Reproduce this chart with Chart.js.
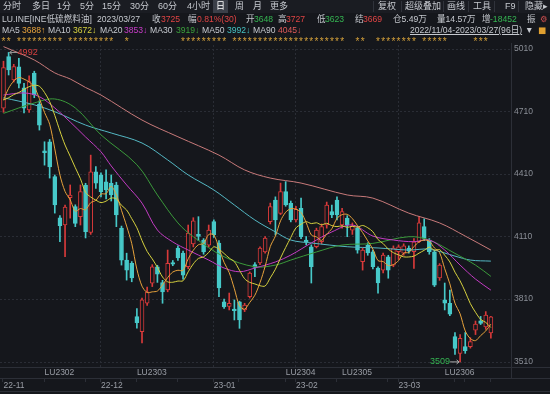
<!DOCTYPE html>
<html>
<head>
<meta charset="utf-8">
<script src="https://cdn.jsdelivr.net/npm/chart.js@4.4.1/dist/chart.umd.min.js"></script>
<style>
  html, body { margin: 0; padding: 0; background: #15171c; }
  #wrap { position: relative; width: 550px; height: 394px; overflow: hidden;
    font-family: "Liberation Sans", "Noto Sans CJK SC", sans-serif; font-size: 8.6px; color: #c6c9cf; }
  #bar { position: absolute; left: 0; top: 0; width: 550px; height: 13px; background: #1a1c22; }
  #sel { position: absolute; left: 213px; top: 0; width: 15px; height: 13px; background: #3b3f48; }
  .sep { position: absolute; top: 1px; width: 1px; height: 11px; background: #30333b; }
  .t { position: absolute; white-space: nowrap; line-height: 12px; }
  .r1 { top: 0; font-size: 9px; } .r2 { top: 13px; } .r3 { top: 24px; }
  .red { color: #e04444; } .grn { color: #35b552; }
  canvas { position: absolute; left: 0; top: 0; }
</style>
</head>
<body>
<div id="wrap">
  <canvas id="kline" width="550" height="394"></canvas>

  <div id="bar"></div>
  <div id="sel"></div>
  <span class="t r1" style="left:3px">分时</span>
  <span class="t r1" style="left:32px">多日</span>
  <span class="t r1" style="left:57px">1分</span>
  <span class="t r1" style="left:80px">5分</span>
  <span class="t r1" style="left:102px">15分</span>
  <span class="t r1" style="left:130px">30分</span>
  <span class="t r1" style="left:158px">60分</span>
  <span class="t r1" style="left:187px">4小时</span>
  <span class="t r1" style="left:216px;color:#fff">日</span>
  <span class="t r1" style="left:235px">周</span>
  <span class="t r1" style="left:253px">月</span>
  <span class="t r1" style="left:270px">更多</span>
  <div class="sep" style="left:373px"></div>
  <div class="sep" style="left:401px"></div>
  <div class="sep" style="left:443px"></div>
  <div class="sep" style="left:468px"></div>
  <div class="sep" style="left:494px"></div>
  <div class="sep" style="left:518px"></div>
  <span class="t r1" style="left:378px">复权</span>
  <span class="t r1" style="left:405px">超级叠加</span>
  <span class="t r1" style="left:447px">画线</span>
  <span class="t r1" style="left:473px">工具</span>
  <span class="t r1" style="left:505px">F9</span>
  <span class="t r1" style="left:525px">隐藏▸</span>

  <span class="t r2" style="left:2px">LU.INE[INE低硫燃料油]</span>
  <span class="t r2" style="left:97px">2023/03/27</span>
  <span class="t r2" style="left:152px">收</span><span class="t r2 red" style="left:161px">3725</span>
  <span class="t r2" style="left:188px">幅</span><span class="t r2 red" style="left:197px">0.81%(30)</span>
  <span class="t r2" style="left:246px">开</span><span class="t r2 grn" style="left:254px">3648</span>
  <span class="t r2" style="left:278px">高</span><span class="t r2 red" style="left:286px">3727</span>
  <span class="t r2" style="left:317px">低</span><span class="t r2 grn" style="left:325px">3623</span>
  <span class="t r2" style="left:355px">结</span><span class="t r2 red" style="left:363px">3669</span>
  <span class="t r2" style="left:393px">仓5.49万</span>
  <span class="t r2" style="left:437px">量14.57万</span>
  <span class="t r2" style="left:482px">增</span><span class="t r2 grn" style="left:490px">-18452</span>
  <span class="t r2" style="left:527px">振</span>
  <span class="t r2" style="left:540px;color:#d05050;font-family:'DejaVu Sans'">⚙</span>

  <span class="t r3" style="left:2px">MA5</span><span class="t r3" style="left:22px;color:#e8a33c">3688↑</span>
  <span class="t r3" style="left:48px">MA10</span><span class="t r3" style="left:73px;color:#d7d23f">3672↓</span>
  <span class="t r3" style="left:100px">MA20</span><span class="t r3" style="left:124px;color:#c83cc8">3853↓</span>
  <span class="t r3" style="left:150px">MA30</span><span class="t r3" style="left:176px;color:#3ba13b">3919↓</span>
  <span class="t r3" style="left:202px">MA50</span><span class="t r3" style="left:227px;color:#46c3c3">3992↓</span>
  <span class="t r3" style="left:253px">MA90</span><span class="t r3" style="left:278px;color:#e05a5a">4045↓</span>
  <span class="t r3" style="left:410px;text-decoration:underline">2022/11/04-2023/03/27(96日)</span>
  <span class="t r3" style="left:525px">▼</span>
  <span class="t r3" style="left:538px;color:#e0a030;font-family:'DejaVu Sans'">■</span>
</div>

<script>
// trading days shown, 2022-11-04 .. 2023-03-27
const days = [
  '11-04','11-07','11-08','11-09','11-10','11-11','11-14','11-15','11-16','11-17','11-18',
  '11-21','11-22','11-23','11-24','11-25','11-28','11-29','11-30',
  '12-01','12-02','12-05','12-06','12-07','12-08','12-09','12-12','12-13','12-14','12-15','12-16',
  '12-19','12-20','12-21','12-22','12-23','12-26','12-27','12-28','12-29','12-30',
  '01-03','01-04','01-05','01-06','01-09','01-10','01-11','01-12','01-13',
  '01-16','01-17','01-18','01-19','01-20','01-30','01-31',
  '02-01','02-02','02-03','02-06','02-07','02-08','02-09','02-10','02-13','02-14','02-15','02-16','02-17',
  '02-20','02-21','02-22','02-23','02-24','02-27','02-28',
  '03-01','03-02','03-03','03-06','03-07','03-08','03-09','03-10','03-13','03-14','03-15','03-16','03-17',
  '03-20','03-21','03-22','03-23','03-24','03-27'
];

const opens = [
  4725, 4972, 4860, 4923, 4822, 4716, 4893, 4744, 4520, 4564,
  4397, 4200, 4165, 4296, 4253, 4205, 4357, 4130, 4420, 4405,
  4372, 4365, 4357, 4150, 3997, 3982, 3726, 3654, 3790, 3886,
  3965, 3889, 3854, 3985, 4055, 4031, 3965, 4075, 4120, 4093,
  4069, 4181, 4079, 3797, 3775, 3762, 3797, 3758, 3822, 3975,
  3983, 4036, 4181, 4285, 4221, 4325, 4269, 4190, 4245, 4093,
  4061, 4061, 4085, 4165, 4229, 4285, 4165, 4198, 4140, 4150,
  3989, 4069, 4037, 3959, 3949, 4013, 3973, 4037, 4030, 4055,
  4037, 4085, 4157, 4093, 4037, 3911, 3806, 3790, 3630, 3550,
  3582, 3582, 3661, 3706, 3677, 3648
];
const highs = [
  4950, 4992, 4935, 4964, 4844, 4880, 4902, 4760, 4564, 4575,
  4405, 4210, 4260, 4357, 4262, 4357, 4365, 4500, 4445, 4415,
  4430, 4405, 4370, 4160, 4030, 3990, 3765, 3815, 3868, 3975,
  3972, 3900, 4045, 3995, 4065, 4040, 4165, 4200, 4205, 4100,
  4165, 4190, 4090, 3810, 3839, 3806, 3800, 3790, 3940, 3985,
  4060, 4110, 4270, 4300, 4366, 4373, 4280, 4255, 4294, 4110,
  4070, 4150, 4170, 4275, 4260, 4300, 4245, 4210, 4175, 4160,
  4055, 4080, 4045, 3965, 4030, 4020, 4065, 4070, 4075, 4065,
  4100, 4205, 4195, 4100, 4045, 3980, 3887, 3853, 3650, 3640,
  3650, 3625, 3705, 3727, 3750, 3727
];
const lows = [
  4705, 4884, 4850, 4822, 4702, 4705, 4775, 4620, 4452, 4390,
  4222, 4085, 4013, 4198, 4157, 4165, 4103, 4120, 4340, 4300,
  4290, 4280, 4157, 3973, 3901, 3893, 3671, 3600, 3780, 3870,
  3890, 3790, 3845, 3970, 3995, 3905, 3955, 4060, 4090, 4025,
  4060, 4105, 3822, 3765, 3758, 3710, 3670, 3750, 3815, 3917,
  3975, 4030, 4170, 4117, 4215, 4255, 4180, 4180, 4100, 4070,
  3887, 4055, 4075, 4150, 4200, 4190, 4150, 4109, 4120, 4030,
  3949, 4020, 3955, 3839, 3935, 3910, 3965, 4000, 4020, 4030,
  3957, 4080, 4090, 4025, 3870, 3900, 3758, 3730, 3545, 3509,
  3550, 3575, 3640, 3688, 3665, 3623
];
const closes = [
  4920, 4908, 4924, 4844, 4725, 4852, 4788, 4644, 4512, 4444,
  4261, 4162, 4251, 4309, 4173, 4325, 4133, 4420, 4365, 4325,
  4333, 4309, 4213, 3997, 3949, 3911, 3697, 3806, 3845, 3965,
  3930, 3845, 3982, 3977, 4007, 3925, 4126, 4185, 4110, 4036,
  4141, 4117, 3863, 3773, 3790, 3755, 3710, 3781, 3935, 3962,
  4055, 4103, 4253, 4189, 4325, 4261, 4189, 4240, 4109, 4085,
  3965, 4141, 4157, 4261, 4213, 4213, 4229, 4165, 4160, 4045,
  4045, 4031, 3965, 3887, 4021, 3949, 4055, 4061, 4065, 4040,
  4085, 4175, 4101, 4037, 3877, 3973, 3790, 3738, 3574, 3622,
  3563, 3606, 3690, 3694, 3734, 3725
];

// first values of MA5 / MA10 (window starts before the visible range)
const ma5Head = [4764, 4820, 4855, 4872];
const ma10Head = [4764, 4775, 4790, 4800, 4815, 4828, 4835, 4830, 4800];

// longer averages: [day index, value]
const ma20 = [[0,4788],[4,4798],[7,4780],[10,4726],[13,4659],[16,4587],[19,4516],[21,4448],[24,4357],
  [27,4270],[30,4141],[33,4084],[36,4045],[40,3997],[43,3959],[46,3941],[49,3959],[53,3988],[56,4021],
  [60,4079],[64,4132],[68,4165],[72,4112],[76,4093],[80,4085],[83,4093],[86,4045],[89,3973],[92,3906],[95,3853]];
const ma30 = [[0,4700],[6,4750],[10,4769],[14,4726],[19,4597],[26,4454],[30,4309],[34,4175],[37,4109],
  [43,4013],[49,3965],[53,3973],[56,3997],[61,4036],[66,4069],[72,4077],[79,4109],[83,4093],[88,4029],
  [92,3973],[95,3919]];
const ma50 = [[0,4775],[6,4741],[10,4708],[16,4644],[21,4606],[27,4558],[32,4477],[36,4405],[41,4333],
  [45,4261],[49,4189],[53,4132],[56,4093],[60,4079],[67,4061],[73,4055],[79,4045],[83,4049],[88,4016],
  [91,3997],[95,3992]];
const ma90 = [[0,5020],[6,4956],[10,4894],[13,4865],[16,4824],[19,4788],[27,4668],[34,4588],[42,4500],
  [47,4429],[52,4390],[58,4366],[67,4309],[72,4294],[79,4222],[85,4175],[90,4112],[95,4045]];

const yTicks = [3510, 3810, 4110, 4410, 4710, 5010];
const monthStarts = [0, 19, 41, 57, 77];
const monthLabels = ['22-11', '22-12', '23-01', '23-02', '23-03'];
const contractStarts = [8, 26, 55, 66, 86];
const contractLabels = ['LU2302', 'LU2303', 'LU2304', 'LU2305', 'LU2306'];
const tickDays = [0, 8, 16, 19, 23, 26, 34, 41, 46, 55, 57, 65, 75, 77, 80, 88, 90, 95];
const starRanges = [[0,1],[3,11],[13,21],[24,24],[35,43],[45,66],[69,70],[73,80],[82,86],[92,94]];

const UP = '#d83a3a', DOWN = '#47c9c9', BG = '#15171c';

function movingAvg(n, head) {
    return closes.map((c, i) => {
        if (i < n - 1) return head[i];
        let s = 0;
        for (let k = i - n + 1; k <= i; k++) s += closes[k];
        return s / n;
    });
}

const isUp = closes.map((c, i) => c >= opens[i]);
const wickData = days.map((d, i) => ({ x: i, y: [lows[i], highs[i]] }));
const bodyData = days.map((d, i) => ({ x: i, y: [opens[i], closes[i]] }));
const daily = arr => arr.map((v, i) => ({ x: i, y: v }));
const pairs = arr => arr.map(p => ({ x: p[0], y: p[1] }));

function maLine(data, color, tension) {
    return {
        type: 'line', data, borderColor: color, borderWidth: 1,
        pointRadius: 0, tension, order: 0
    };
}

const frame = {
    id: 'frame',
    beforeDatasetsDraw(chart) {
        const { ctx, chartArea: a, scales: { x, y } } = chart;
        ctx.save();
        ctx.strokeStyle = '#2a2d35';
        ctx.lineWidth = 1;
        ctx.setLineDash([2, 2]);
        ctx.beginPath();
        yTicks.forEach(v => {
            const py = Math.round(y.getPixelForValue(v)) + 0.5;
            ctx.moveTo(a.left, py); ctx.lineTo(a.right, py);
        });
        monthStarts.slice(1).forEach(i => {
            const px = Math.round(x.getPixelForValue(i)) - 0.5;
            ctx.moveTo(px, a.top); ctx.lineTo(px, a.bottom);
        });
        ctx.stroke();
        ctx.restore();
    },
    afterDraw(chart) {
        const { ctx, chartArea: a, scales: { x, y } } = chart;
        ctx.save();
        ctx.strokeStyle = '#2c2f37';
        ctx.lineWidth = 1;
        ctx.beginPath();
        ctx.moveTo(a.right + 0.5, a.top - 2); ctx.lineTo(a.right + 0.5, 378);
        [367.5, 378.5, 391.5].forEach(py => { ctx.moveTo(0, py); ctx.lineTo(550, py); });
        tickDays.forEach(i => {
            const px = Math.round(x.getPixelForValue(i)) - 0.5;
            ctx.moveTo(px, 379); ctx.lineTo(px, 382);
        });
        ctx.stroke();

        ctx.font = '8.5px "Liberation Sans", sans-serif';
        ctx.textBaseline = 'middle';
        ctx.textAlign = 'left';
        ctx.fillStyle = '#8b8f97';
        yTicks.forEach(v => ctx.fillText(String(v), a.right + 3, y.getPixelForValue(v)));
        ctx.fillStyle = '#9a9ea6';
        contractStarts.forEach((i, k) => ctx.fillText(contractLabels[k], x.getPixelForValue(i), 373));
        monthStarts.forEach((i, k) => ctx.fillText(monthLabels[k], x.getPixelForValue(i), 385.5));

        // highest / lowest markers
        ctx.font = '9px "Liberation Sans", sans-serif';
        const hi = highs.indexOf(Math.max(...highs));
        const lo = lows.indexOf(Math.min(...lows));
        let px = x.getPixelForValue(hi), py = y.getPixelForValue(highs[hi]);
        ctx.strokeStyle = '#9a9a9a';
        ctx.beginPath();
        ctx.moveTo(px + 1, py); ctx.lineTo(px + 9, py);
        ctx.moveTo(px + 1, py); ctx.lineTo(px + 3.5, py - 2);
        ctx.moveTo(px + 1, py); ctx.lineTo(px + 3.5, py + 2);
        ctx.stroke();
        ctx.fillStyle = '#d84040';
        ctx.fillText(String(highs[hi]), px + 9, py);

        px = x.getPixelForValue(lo); py = y.getPixelForValue(lows[lo]);
        ctx.strokeStyle = '#b0b0b0';
        ctx.beginPath();
        ctx.moveTo(px - 10, py); ctx.lineTo(px - 1, py);
        ctx.moveTo(px - 1, py); ctx.lineTo(px - 3.5, py - 2);
        ctx.moveTo(px - 1, py); ctx.lineTo(px - 3.5, py + 2);
        ctx.stroke();
        ctx.fillStyle = '#35b552';
        ctx.textAlign = 'right';
        ctx.fillText(String(lows[lo]), px - 10, py);

        // event stars
        ctx.font = '10px "Liberation Sans", sans-serif';
        ctx.textAlign = 'center';
        ctx.textBaseline = 'alphabetic';
        ctx.fillStyle = '#d4a03a';
        starRanges.forEach(([s, e]) => {
            for (let i = s; i <= e; i++) ctx.fillText('*', x.getPixelForValue(i), 45);
        });
        ctx.restore();
    }
};

new Chart(document.getElementById('kline'), {
    type: 'bar',
    data: {
        datasets: [
            maLine(daily(movingAvg(5, ma5Head)), '#e8a33c', 0.3),
            maLine(daily(movingAvg(10, ma10Head)), '#d7d23f', 0.3),
            maLine(pairs(ma20), '#c33cc3', 0.35),
            maLine(pairs(ma30), '#3b9a3b', 0.35),
            maLine(pairs(ma50), '#54b8c4', 0.35),
            maLine(pairs(ma90), '#c87a7a', 0.35),
            {
                data: bodyData,
                barThickness: 4,
                minBarLength: 1,
                grouped: false,
                borderSkipped: false,
                borderWidth: 1,
                borderColor: isUp.map(u => u ? UP : DOWN),
                backgroundColor: isUp.map(u => u ? BG : DOWN),
                order: 1
            },
            {
                data: wickData,
                barThickness: 1,
                grouped: false,
                backgroundColor: isUp.map(u => u ? UP : DOWN),
                order: 2
            }
        ]
    },
    options: {
        responsive: false,
        animation: false,
        devicePixelRatio: 1,
        layout: { padding: { left: 0, right: 39, top: 45, bottom: 27 } },
        scales: {
            x: { type: 'linear', display: false, offset: false, min: -0.68, max: 98.92 },
            y: { type: 'linear', display: false, beginAtZero: false, min: 3484.6, max: 5027.7 }
        },
        plugins: { legend: { display: false }, tooltip: { enabled: false } }
    },
    plugins: [frame]
});
</script>
</body>
</html>
